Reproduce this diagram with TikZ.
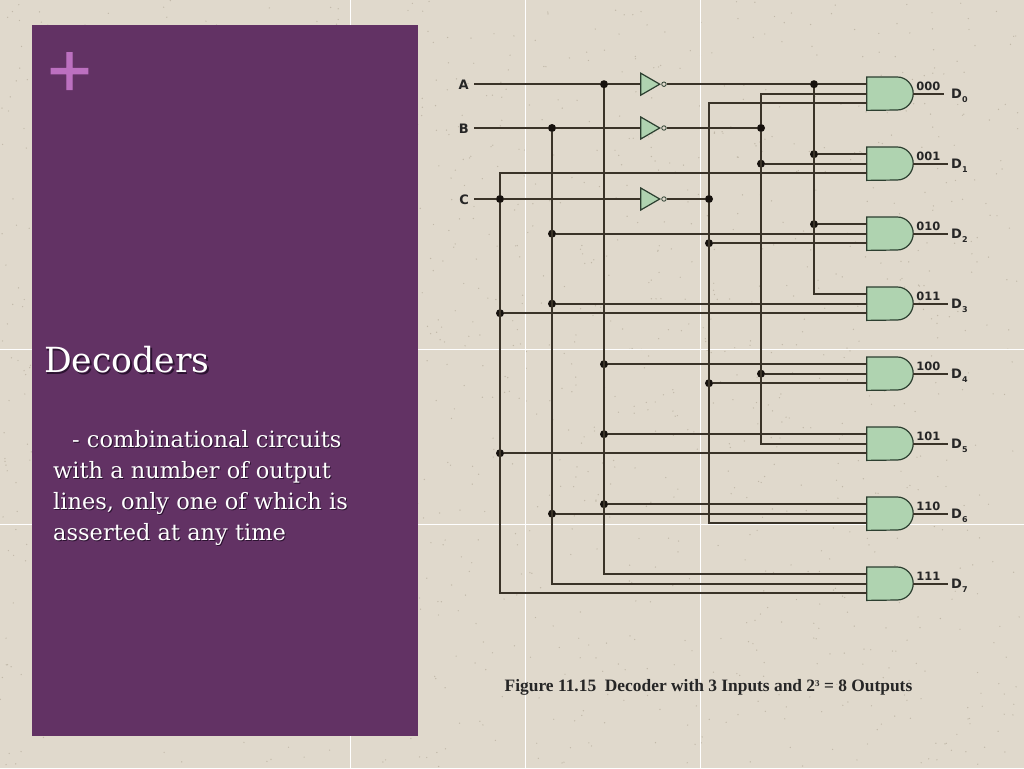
\documentclass[tikz,border=0pt]{standalone}
\usepackage{fontspec}
\setmainfont{DejaVu Serif}
\newfontfamily\labelfont{DejaVu Sans}
\newfontfamily\capfont{Liberation Serif}
\newfontfamily\plusfont[FakeBold=1.3]{Liberation Sans}
\usepackage{xcolor}
\usetikzlibrary{positioning,shapes.geometric}
\definecolor{paper}{HTML}{E0D9CC}
\definecolor{speck}{HTML}{A89E8C}
\definecolor{panel}{HTML}{623264}
\definecolor{plusmark}{HTML}{BC70C0}
\definecolor{gategreen}{HTML}{AFD3B0}
\definecolor{gateline}{HTML}{2C3F30}
\definecolor{wirecol}{HTML}{3A3328}
\definecolor{dotcol}{HTML}{17120E}
\definecolor{shade}{HTML}{2B1230}
\newcommand{\paneltext}{\hspace*{19pt}- combinational circuits\\with a number of output\\lines, only one of which is\\asserted at any time}
\newcommand{\subidx}[1]{\raisebox{-3.5pt}{\fontsize{8}{8}\selectfont #1}}

\begin{document}
\begin{tikzpicture}[x=1pt, y=-1pt, node distance=70pt]
        % Define styles
        \tikzset{
            andgate/.style={rectangle, minimum width=46pt, minimum height=33pt, inner sep=0pt},
            gatebody/.style={draw=gateline, fill=gategreen, line width=1.2pt},
            invgate/.style={isosceles triangle, isosceles triangle stretches, shape border rotate=0, anchor=apex, draw=gateline, fill=gategreen, line width=1.2pt, minimum height=19pt, minimum width=22pt, inner sep=0pt},
            bubble/.style={circle, draw=gateline, fill=paper, line width=0.8pt, minimum size=4.5pt, inner sep=0pt, anchor=west},
            wire/.style={draw=wirecol, line width=1.7pt},
            dot/.style={circle, fill=dotcol, inner sep=0pt, minimum size=8pt},
            sigtext/.style={font=\labelfont\bfseries\fontsize{13}{13}\selectfont, text=black!85, inner ysep=0pt, text height=10pt, text depth=0pt},
            codetext/.style={font=\labelfont\bfseries\fontsize{11.5}{12}\selectfont, text=black!85, inner sep=0pt, anchor=south west},
            gridline/.style={white, line width=1pt},
            titletext/.style={font=\fontsize{34.6}{40}\selectfont, anchor=west, inner sep=0pt},
            bodytext/.style={font=\fontsize{22.5}{31}\selectfont, align=left, anchor=north west, inner sep=0pt}
        }

        % Background and panel
        \useasboundingbox (0,0) rectangle (1024,768);
        \fill[paper] (0,0) rectangle (1024,768);
        \pgfmathsetseed{11}
        \foreach \i in {1,...,1500} {\fill[speck, opacity=0.55] ({rnd*1024},{rnd*768}) circle (0.7);}
        \draw[gridline] (350,0) -- (350,768);
        \draw[gridline] (525,0) -- (525,768);
        \draw[gridline] (700,0) -- (700,768);
        \draw[gridline] (0,349) -- (1024,349);
        \draw[gridline] (0,524) -- (1024,524);
        \fill[panel] (31.5,25.5) rectangle (418,736);

        % Panel text
        \node[font=\plusfont\fontsize{76}{76}\selectfont, text=plusmark, inner sep=0pt] (plus) at (69.5,74.5) {+};
        \node[titletext, text=shade] (titleshade) at (45.5,361.5) {Decoders};
        \node[titletext, text=white] (title) at (44,360) {Decoders};
        \node[bodytext, text=shade] (bodyshade) at (54,431.5) {\paneltext};
        \node[bodytext, text=white] (body) at (53,430.5) {\paneltext};

        % Create gates
        \node[andgate] (gate0) at (890,93.7) {};
        \node[andgate, below of=gate0] (gate1) {};
        \node[andgate, below of=gate1] (gate2) {};
        \node[andgate, below of=gate2] (gate3) {};
        \node[andgate, below of=gate3] (gate4) {};
        \node[andgate, below of=gate4] (gate5) {};
        \node[andgate, below of=gate5] (gate6) {};
        \node[andgate, below of=gate6] (gate7) {};
        \foreach \g in {gate0,gate1,gate2,gate3,gate4,gate5,gate6,gate7} {
            \draw[gatebody] (\g.north west) -- ([xshift=-16pt]\g.north east) arc[start angle=90, end angle=-90, x radius=16pt, y radius=16.5pt] -- (\g.south west) -- cycle;
            \coordinate (\g-1) at ([yshift=9.5pt]\g.west);
            \coordinate (\g-2) at (\g.west);
            \coordinate (\g-3) at ([yshift=-9.5pt]\g.west);
        }
        \node[invgate] (notA) at (661.3,84.2) {};
        \node[invgate] (notB) at (661.3,128) {};
        \node[invgate] (notC) at (661.3,199) {};
        \node[bubble] (bubA) at (notA.apex) {};
        \node[bubble] (bubB) at (notB.apex) {};
        \node[bubble] (bubC) at (notC.apex) {};

        % Create inputs
        \node[sigtext, anchor=east, inner xsep=5pt] (A) at (474,84.2) {A};
        \node[sigtext, anchor=east, inner xsep=5pt] (B) at (474,128) {B};
        \node[sigtext, anchor=east, inner xsep=5pt] (C) at (474,199) {C};

        % Create junctions
        \node[dot] (dotA) at (604,84.2) {};
        \node[dot] (dotB) at (552,128) {};
        \node[dot] (dotC) at (500,199) {};
        \node[dot] (dotnA) at (814,84.2) {};
        \node[dot] (dotnB) at (761,128) {};
        \node[dot] (dotnC) at (709,199) {};
        \node[dot] (dotnA1) at (dotnA |- gate1-1) {};
        \node[dot] (dotnA2) at (dotnA |- gate2-1) {};
        \node[dot] (dotnB1) at (dotnB |- gate1-2) {};
        \node[dot] (dotnB4) at (dotnB |- gate4-2) {};
        \node[dot] (dotnC2) at (dotnC |- gate2-3) {};
        \node[dot] (dotnC4) at (dotnC |- gate4-3) {};
        \node[dot] (dotB2) at (dotB |- gate2-2) {};
        \node[dot] (dotB3) at (dotB |- gate3-2) {};
        \node[dot] (dotB6) at (dotB |- gate6-2) {};
        \node[dot] (dotC3) at (dotC |- gate3-3) {};
        \node[dot] (dotC5) at (dotC |- gate5-3) {};
        \node[dot] (dotA4) at (dotA |- gate4-1) {};
        \node[dot] (dotA5) at (dotA |- gate5-1) {};
        \node[dot] (dotA6) at (dotA |- gate6-1) {};

        % Create wires
        \draw[wire] (A) -- (dotA) -- (notA.lower side);
        \draw[wire] (B) -- (dotB) -- (notB.lower side);
        \draw[wire] (C) -- (dotC) -- (notC.lower side);
        \draw[wire] (bubA) -- (dotnA) -- (gate0-1);
        \draw[wire] (bubB) -- (dotnB);
        \draw[wire] (bubC) -- (dotnC);
        \draw[wire] (dotA) |- (gate7-1);
        \draw[wire] (dotB) |- (gate7-2);
        \draw[wire] (gate1-3) -| (dotC);
        \draw[wire] (dotC) |- (gate7-3);
        \draw[wire] (dotnA) |- (gate3-1);
        \draw[wire] (gate0-2) -| (dotnB);
        \draw[wire] (dotnB) |- (gate5-2);
        \draw[wire] (gate0-3) -| (dotnC);
        \draw[wire] (dotnC) |- (gate6-3);
        \draw[wire] (dotnA1) -- (gate1-1);
        \draw[wire] (dotnA2) -- (gate2-1);
        \draw[wire] (dotnB1) -- (gate1-2);
        \draw[wire] (dotnB4) -- (gate4-2);
        \draw[wire] (dotnC2) -- (gate2-3);
        \draw[wire] (dotnC4) -- (gate4-3);
        \draw[wire] (dotB2) -- (gate2-2);
        \draw[wire] (dotB3) -- (gate3-2);
        \draw[wire] (dotB6) -- (gate6-2);
        \draw[wire] (dotC3) -- (gate3-3);
        \draw[wire] (dotC5) -- (gate5-3);
        \draw[wire] (dotA4) -- (gate4-1);
        \draw[wire] (dotA5) -- (gate5-1);
        \draw[wire] (dotA6) -- (gate6-1);

        % Create outputs
        \node[sigtext, anchor=west, inner xsep=7pt] (D0) at (944,93.7) {D\subidx{0}};
        \node[sigtext, below of=D0] (D1) {D\subidx{1}};
        \node[sigtext, below of=D1] (D2) {D\subidx{2}};
        \node[sigtext, below of=D2] (D3) {D\subidx{3}};
        \node[sigtext, below of=D3] (D4) {D\subidx{4}};
        \node[sigtext, below of=D4] (D5) {D\subidx{5}};
        \node[sigtext, below of=D5] (D6) {D\subidx{6}};
        \node[sigtext, below of=D6] (D7) {D\subidx{7}};
        \draw[wire] (gate0) -- (D0);
        \draw[wire] (gate1) -- (D1);
        \draw[wire] (gate2) -- (D2);
        \draw[wire] (gate3) -- (D3);
        \draw[wire] (gate4) -- (D4);
        \draw[wire] (gate5) -- (D5);
        \draw[wire] (gate6) -- (D6);
        \draw[wire] (gate7) -- (D7);

        % Add output codes
        \node[codetext, above right=3pt and 3pt of gate0.east] (code0) {000};
        \node[codetext, above right=3pt and 3pt of gate1.east] (code1) {001};
        \node[codetext, above right=3pt and 3pt of gate2.east] (code2) {010};
        \node[codetext, above right=3pt and 3pt of gate3.east] (code3) {011};
        \node[codetext, above right=3pt and 3pt of gate4.east] (code4) {100};
        \node[codetext, above right=3pt and 3pt of gate5.east] (code5) {101};
        \node[codetext, above right=3pt and 3pt of gate6.east] (code6) {110};
        \node[codetext, above right=3pt and 3pt of gate7.east] (code7) {111};

        % Add caption
        \node[font=\capfont\bfseries\fontsize{17.4}{20}\selectfont, text=black!85] (caption) at (708.5,687) {Figure 11.15\ \ Decoder with 3 Inputs and 2\raisebox{5pt}{\fontsize{9}{9}\selectfont 3} = 8 Outputs};
    \end{tikzpicture}
\end{document}
